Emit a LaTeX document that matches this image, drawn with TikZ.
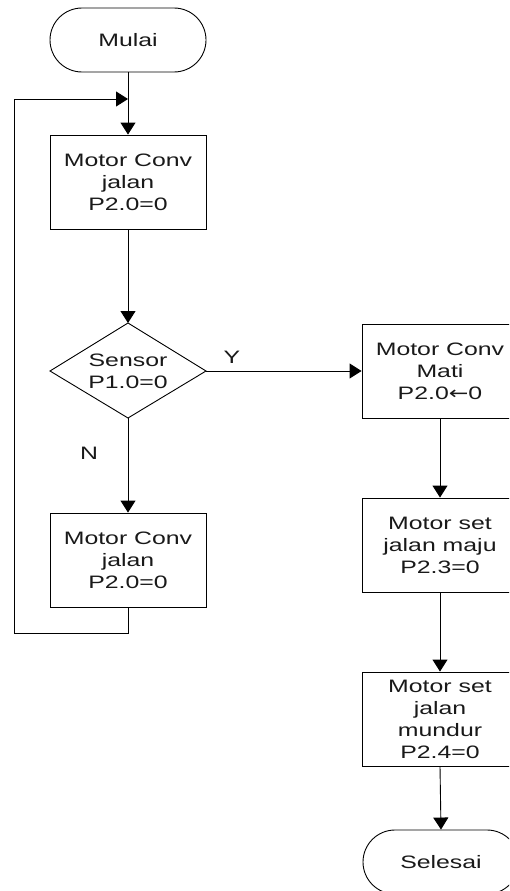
\documentclass[tikz,border=0pt]{standalone}
\usepackage{fontspec}
\setmainfont{Liberation Sans}[FakeStretch=1.38]
\newfontfamily\symf{DejaVu Sans}[FakeStretch=1.3]
\usetikzlibrary{arrows.meta}
\begin{document}
\begin{tikzpicture}[x=1pt,y=-1pt,
  line width=0.9pt,
  txt/.style={font=\fontsize{18}{22}\selectfont, align=center, text=black!90},
  procbox/.style={draw, minimum width=156pt, minimum height=94pt, inner sep=0pt, txt},
  termbox/.style={draw, rounded corners=32pt, minimum width=156pt, minimum height=64pt, inner sep=0pt, txt},
  flow/.style={-{Triangle[width=15pt,length=12pt]}},
  lbl/.style={txt, inner sep=0pt}]
\useasboundingbox (0,0) rectangle (509,891);
\clip (0,0) rectangle (509,891);
\node[termbox] (start) at (128,40) {Mulai};
\node[procbox] (p1) at (128,182) {Motor Conv\\jalan\\P2.0=0};
\coordinate (dtop) at (128,323);
\coordinate (dleft) at (50,371);
\coordinate (dright) at (206,371);
\coordinate (dbot) at (128,418);
\draw (dtop) -- (dright) -- (dbot) -- (dleft) -- cycle;
\node[lbl] (dec) at (128,371) {Sensor\\P1.0=0};
\node[procbox] (p2) at (128,560) {Motor Conv\\jalan\\P2.0=0};
\node[procbox] (p3) at (440,371) {Motor Conv\\Mati\\P2.0{\symf←}0};
\node[procbox] (p4) at (440,545) {Motor set\\jalan maju\\P2.3=0};
\node[procbox] (p5) at (440,719) {Motor set\\jalan\\mundur\\P2.4=0};
\node[termbox] (stop) at (441,862) {Selesai};
\coordinate (join) at (128,99);
\coordinate (lb) at (128,633);
\coordinate (lbl1) at (14,633);
\coordinate (lt) at (14,99);
\draw (start.south) -- (join);
\draw[flow] (join) -- (p1.north);
\draw[flow] (p1.south) -- (dtop);
\draw[flow] (dbot) -- (p2.north);
\draw[flow] (p2.south) -- (lb) -- (lbl1) -- (lt) -- (join);
\draw[flow] (dright) -- (p3.west);
\draw[flow] (p3.south) -- (p4.north);
\draw[flow] (p4.south) -- (p5.north);
\draw[flow] (p5.south) -- (stop.north);
\node[lbl] (ylab) at (232,357) {Y};
\node[lbl] (nlab) at (89,453) {N};
\end{tikzpicture}
\end{document}
